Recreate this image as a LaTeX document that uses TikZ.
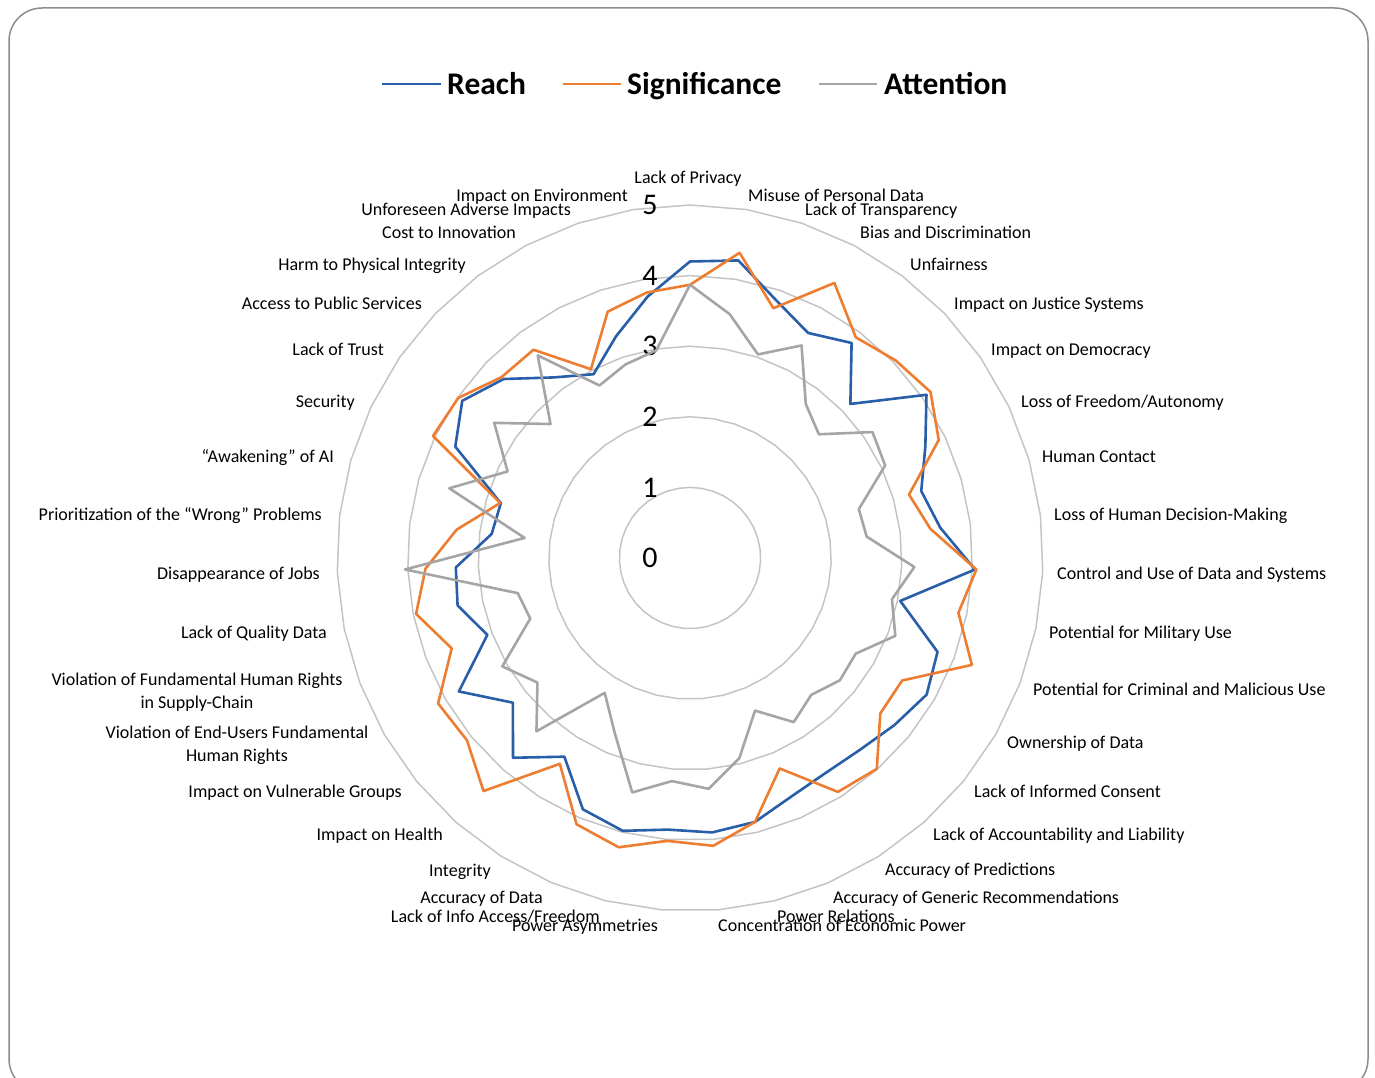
\documentclass[tikz,border=0pt]{standalone}
\usepackage{fontspec}
\setmainfont{Carlito}
\usepackage{tikz}
\usetikzlibrary{positioning}
\definecolor{reachblue}{RGB}{41,94,168}
\definecolor{signorange}{RGB}{237,125,49}
\definecolor{attngray}{RGB}{165,165,165}
\definecolor{gridgray}{RGB}{196,196,196}
\definecolor{framegray}{RGB}{140,140,140}

\begin{document}
\begin{tikzpicture}[x=1pt,y=-1pt,
    gridring/.style={draw=gridgray,line width=1.5pt},
    reachline/.style={draw=reachblue,line width=2.6pt,line join=round},
    signline/.style={draw=signorange,line width=2.6pt,line join=round},
    attnline/.style={draw=attngray,line width=2.6pt,line join=round},
    catlabel/.style={font=\fontsize{18}{23}\selectfont,inner sep=0pt,yshift=-2pt},
    axnum/.style={font=\fontsize{30}{32}\selectfont,inner sep=0pt},
    legtext/.style={font=\fontsize{31.5}{34}\selectfont\bfseries,inner sep=0pt}]
    \useasboundingbox (0,0) rectangle (1375,1078);
    \draw[framegray,line width=1.5pt,rounded corners=33pt] (9,8) rectangle (1368,1092);
    % legend
    \draw[reachline] (382,84) -- (441,84);
    \node[legtext,anchor=base west] (legreach) at (447,95) {Reach};
    \draw[signline] (563,84) -- (621,84);
    \node[legtext,anchor=base west] (legsign) at (627,95) {Significance};
    \draw[attnline] (819,84) -- (877,84);
    \node[legtext,anchor=base west] (legattn) at (884,95) {Attention};
    % grid rings
    \foreach \k in {1,...,5}{
        \draw[gridring] (690,{558-70.6*\k}) \foreach \j in {1,...,38}{
            -- ({690+70.6*\k*sin(\j*360/39)},{558-70.6*\k*cos(\j*360/39)})} -- cycle;
    }
    \foreach \k in {0,...,5}{
        \node[axnum] (ax\k) at (650,{558-70.6*\k}) {\k};
    }
    % series
    \foreach \v [count=\i from 0] in {4.20,4.27,3.85,3.60,3.81,3.15,4.07,3.69,3.41,3.57,4.04,3.04,3.75,3.87,3.74,3.63,3.60,3.67,3.85,3.90,3.86,3.98,3.87,3.33,3.78,3.24,3.78,3.07,3.36,3.32,2.83,2.79,3.68,3.92,3.66,3.20,2.94,3.31,3.75}{
        \coordinate (re\i) at ({690+70.6*\v*sin(\i*360/39)},{558-70.6*\v*cos(\i*360/39)});
    }
    \foreach \v [count=\i from 0] in {3.87,4.38,3.73,4.40,3.91,4.04,4.14,3.90,3.23,3.43,4.06,3.88,4.27,3.47,3.48,3.99,3.92,3.24,3.85,4.09,4.02,4.22,4.10,3.45,4.41,4.08,4.12,3.61,3.96,3.75,3.33,2.80,4.03,3.99,3.70,3.69,3.02,3.68,3.81}{
        \coordinate (si\i) at ({690+70.6*\v*sin(\i*360/39)},{558-70.6*\v*cos(\i*360/39)});
    }
    \foreach \v [count=\i from 0] in {3.87,3.50,3.04,3.40,2.73,2.53,3.14,3.06,2.49,2.52,3.18,2.92,3.11,2.71,2.74,2.59,2.75,2.35,2.92,3.28,3.17,3.42,2.71,2.26,3.28,2.79,3.07,2.42,2.49,4.04,2.36,3.55,2.86,3.37,2.74,3.59,2.76,2.89,2.98}{
        \coordinate (at\i) at ({690+70.6*\v*sin(\i*360/39)},{558-70.6*\v*cos(\i*360/39)});
    }
    \draw[reachline] (re0) \foreach \i in {1,...,38}{ -- (re\i)} -- cycle;
    \draw[signline] (si0) \foreach \i in {1,...,38}{ -- (si\i)} -- cycle;
    \draw[attnline] (at0) \foreach \i in {1,...,38}{ -- (at\i)} -- cycle;
    % category labels
    \node[catlabel,anchor=base] (c0) at (688,182) {Lack of Privacy};
    \node[catlabel,anchor=base west] (c1) at (748,199) {Misuse of Personal Data};
    \node[catlabel,anchor=base west] (c2) at (805,213) {Lack of Transparency};
    \node[catlabel,anchor=base west] (c3) at (860,236) {Bias and Discrimination};
    \node[catlabel,anchor=base west] (c4) at (910,268) {Unfairness};
    \node[catlabel,anchor=base west] (c5) at (954,307) {Impact on Justice Systems};
    \node[catlabel,anchor=base west] (c6) at (991,353) {Impact on Democracy};
    \node[catlabel,anchor=base west] (c7) at (1021,405) {Loss of Freedom/Autonomy};
    \node[catlabel,anchor=base west] (c8) at (1042,460) {Human Contact};
    \node[catlabel,anchor=base west] (c9) at (1054,518) {Loss of Human Decision-Making};
    \node[catlabel,anchor=base west] (c10) at (1057,577) {Control and Use of Data and Systems};
    \node[catlabel,anchor=base west] (c11) at (1049,636) {Potential for Military Use};
    \node[catlabel,anchor=base west] (c12) at (1033,693) {Potential for Criminal and Malicious Use};
    \node[catlabel,anchor=base west] (c13) at (1007,746) {Ownership of Data};
    \node[catlabel,anchor=base west] (c14) at (974,795) {Lack of Informed Consent};
    \node[catlabel,anchor=base west] (c15) at (933,838) {Lack of Accountability and Liability};
    \node[catlabel,anchor=base west] (c16) at (885,873) {Accuracy of Predictions};
    \node[catlabel,anchor=base west] (c17) at (833,901) {Accuracy of Generic Recommendations};
    \node[catlabel,anchor=base west] (c18) at (777,920) {Power Relations};
    \node[catlabel,anchor=base west] (c19) at (718,929) {Concentration of Economic Power};
    \node[catlabel,anchor=base east] (c20) at (658,929) {Power Asymmetries};
    \node[catlabel,anchor=base east] (c21) at (600,920) {Lack of Info Access/Freedom};
    \node[catlabel,anchor=base east] (c22) at (543,901) {Accuracy of Data};
    \node[catlabel,anchor=base east] (c23) at (491,874) {Integrity};
    \node[catlabel,anchor=base east] (c24) at (443,838) {Impact on Health};
    \node[catlabel,anchor=base east] (c25) at (402,795) {Impact on Vulnerable Groups};
    \node[catlabel,align=center] (c26) at (237,743) {Violation of End-Users Fundamental\\Human Rights};
    \node[catlabel,align=center] (c27) at (197,690) {Violation of Fundamental Human Rights\\in Supply-Chain};
    \node[catlabel,anchor=base east] (c28) at (327,636) {Lack of Quality Data};
    \node[catlabel,anchor=base east] (c29) at (320,577) {Disappearance of Jobs};
    \node[catlabel,anchor=base east] (c30) at (322,518) {Prioritization of the ``Wrong'' Problems};
    \node[catlabel,anchor=base east] (c31) at (334,460) {``Awakening'' of AI};
    \node[catlabel,anchor=base east] (c32) at (355,405) {Security};
    \node[catlabel,anchor=base east] (c33) at (384,353) {Lack of Trust};
    \node[catlabel,anchor=base east] (c34) at (422,307) {Access to Public Services};
    \node[catlabel,anchor=base east] (c35) at (466,268) {Harm to Physical Integrity};
    \node[catlabel,anchor=base east] (c36) at (516,236) {Cost to Innovation};
    \node[catlabel,anchor=base east] (c37) at (571,213) {Unforeseen Adverse Impacts};
    \node[catlabel,anchor=base east] (c38) at (628,199) {Impact on Environment};
\end{tikzpicture}
\end{document}
